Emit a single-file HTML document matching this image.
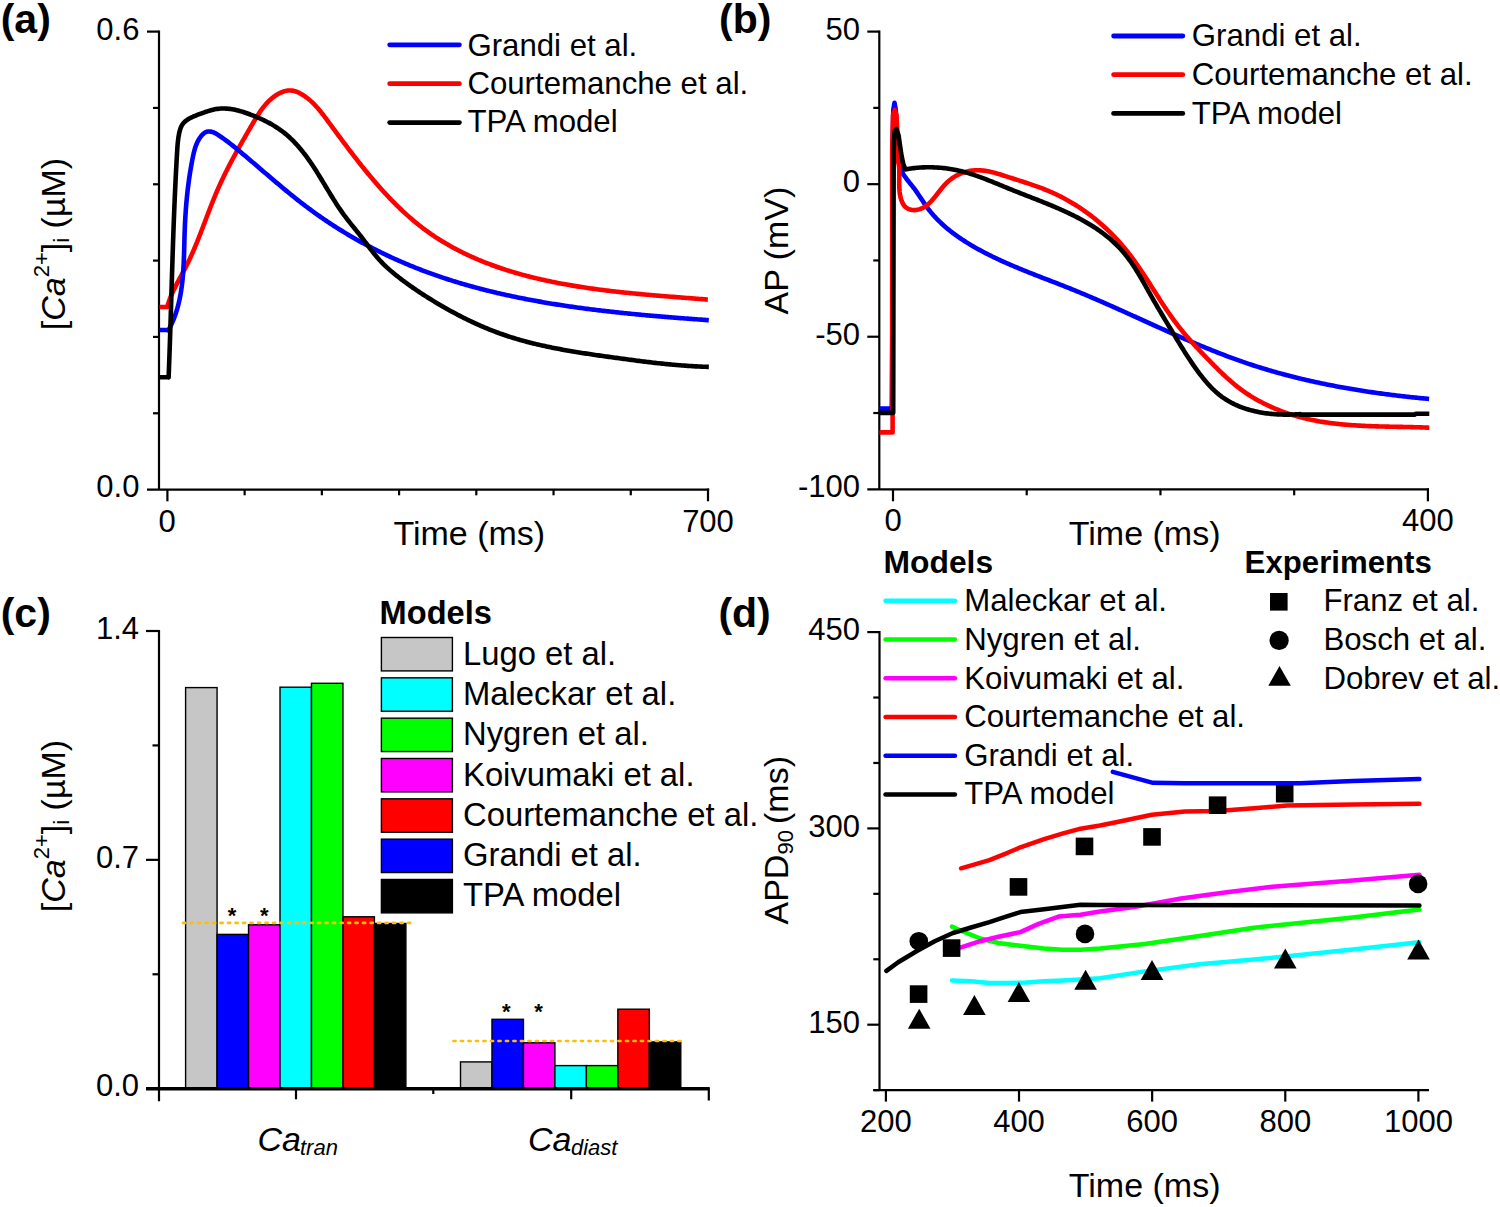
<!DOCTYPE html>
<html><head><meta charset="utf-8"><style>
html,body{margin:0;padding:0;background:#fff;}
svg{display:block;}
text{font-family:"Liberation Sans", sans-serif;fill:#000;}
</style></head><body>
<svg width="1500" height="1207" viewBox="0 0 1500 1207">
<rect width="1500" height="1207" fill="#fff"/>
<text x="0.70" y="32.70" font-size="41" font-weight="bold">(a)</text>
<text x="719.00" y="32.70" font-size="41" font-weight="bold">(b)</text>
<text x="0.70" y="627.30" font-size="41" font-weight="bold">(c)</text>
<text x="718.40" y="627.00" font-size="41" font-weight="bold">(d)</text>
<line x1="159.00" y1="30.60" x2="159.00" y2="489.60" stroke="#000" stroke-width="2.2" stroke-linecap="butt"/>
<line x1="147.00" y1="489.60" x2="709.20" y2="489.60" stroke="#000" stroke-width="2.2" stroke-linecap="butt"/>
<line x1="147.00" y1="31.60" x2="159.00" y2="31.60" stroke="#000" stroke-width="2.2" stroke-linecap="butt"/>
<line x1="153.00" y1="413.27" x2="159.00" y2="413.27" stroke="#000" stroke-width="2.2" stroke-linecap="butt"/>
<line x1="153.00" y1="336.93" x2="159.00" y2="336.93" stroke="#000" stroke-width="2.2" stroke-linecap="butt"/>
<line x1="153.00" y1="260.60" x2="159.00" y2="260.60" stroke="#000" stroke-width="2.2" stroke-linecap="butt"/>
<line x1="153.00" y1="184.27" x2="159.00" y2="184.27" stroke="#000" stroke-width="2.2" stroke-linecap="butt"/>
<line x1="153.00" y1="107.93" x2="159.00" y2="107.93" stroke="#000" stroke-width="2.2" stroke-linecap="butt"/>
<line x1="167.40" y1="489.60" x2="167.40" y2="501.30" stroke="#000" stroke-width="2.2" stroke-linecap="butt"/>
<line x1="708.00" y1="488.60" x2="708.00" y2="501.30" stroke="#000" stroke-width="2.2" stroke-linecap="butt"/>
<line x1="244.63" y1="489.60" x2="244.63" y2="495.30" stroke="#000" stroke-width="2.2" stroke-linecap="butt"/>
<line x1="321.86" y1="489.60" x2="321.86" y2="495.30" stroke="#000" stroke-width="2.2" stroke-linecap="butt"/>
<line x1="399.09" y1="489.60" x2="399.09" y2="495.30" stroke="#000" stroke-width="2.2" stroke-linecap="butt"/>
<line x1="476.31" y1="489.60" x2="476.31" y2="495.30" stroke="#000" stroke-width="2.2" stroke-linecap="butt"/>
<line x1="553.54" y1="489.60" x2="553.54" y2="495.30" stroke="#000" stroke-width="2.2" stroke-linecap="butt"/>
<line x1="630.77" y1="489.60" x2="630.77" y2="495.30" stroke="#000" stroke-width="2.2" stroke-linecap="butt"/>
<text x="139.40" y="39.70" font-size="31.0" text-anchor="end">0.6</text>
<text x="139.40" y="497.30" font-size="31.0" text-anchor="end">0.0</text>
<text x="167.20" y="531.50" font-size="31.0" text-anchor="middle">0</text>
<text x="708.00" y="531.50" font-size="31.0" text-anchor="middle">700</text>
<text x="393.40" y="545.40" font-size="34">Time (ms)</text>
<text transform="translate(65.0,330.2) rotate(-90)" font-size="34">[<tspan font-style="italic">Ca</tspan><tspan font-size="22" dy="-16">2+</tspan><tspan dy="16">]</tspan><tspan font-size="22" dy="4">i</tspan><tspan dy="-4"> (µM)</tspan></text>
<line x1="389.70" y1="44.80" x2="459.40" y2="44.80" stroke="#0000ff" stroke-width="4.8" stroke-linecap="round"/>
<text x="467.40" y="55.60" font-size="31.2">Grandi et al.</text>
<line x1="389.70" y1="83.70" x2="459.40" y2="83.70" stroke="#ff0000" stroke-width="4.8" stroke-linecap="round"/>
<text x="467.40" y="94.00" font-size="31.2">Courtemanche et al.</text>
<line x1="389.70" y1="122.60" x2="459.40" y2="122.60" stroke="#000" stroke-width="4.8" stroke-linecap="round"/>
<text x="467.40" y="132.40" font-size="31.2">TPA model</text>
<path d="M159.50,307.00 L167.40,307.00 L167.25,306.96 L167.66,305.49 L168.09,304.03 L168.56,302.59 L169.04,301.16 L169.55,299.74 L170.09,298.34 L170.64,296.94 L171.21,295.55 L171.80,294.18 L172.41,292.81 L173.04,291.45 L173.68,290.10 L174.33,288.75 L174.99,287.41 L175.67,286.08 L176.35,284.75 L177.04,283.42 L177.74,282.10 L178.44,280.78 L179.15,279.46 L179.86,278.15 L180.58,276.83 L181.29,275.51 L182.01,274.20 L182.72,272.88 L183.42,271.56 L184.13,270.23 L184.82,268.91 L185.51,267.58 L186.20,266.24 L186.87,264.90 L187.54,263.56 L188.19,262.21 L188.84,260.85 L189.48,259.50 L190.12,258.13 L190.74,256.77 L191.37,255.40 L191.98,254.03 L192.59,252.65 L193.19,251.27 L193.79,249.89 L194.38,248.50 L194.96,247.11 L195.54,245.72 L196.12,244.32 L196.69,242.93 L197.26,241.53 L197.82,240.13 L198.38,238.73 L198.94,237.32 L199.49,235.91 L200.04,234.51 L200.59,233.10 L201.13,231.69 L201.67,230.28 L202.22,228.86 L202.76,227.45 L203.29,226.04 L203.83,224.63 L204.37,223.21 L204.90,221.80 L205.44,220.38 L205.98,218.97 L206.51,217.56 L207.05,216.14 L207.59,214.73 L208.12,213.32 L208.66,211.91 L209.20,210.50 L209.75,209.09 L210.29,207.69 L210.84,206.28 L211.39,204.88 L211.94,203.48 L212.50,202.08 L213.06,200.68 L213.62,199.29 L214.19,197.89 L214.76,196.50 L215.33,195.12 L215.91,193.73 L216.50,192.35 L217.09,190.98 L217.68,189.60 L218.28,188.23 L218.89,186.87 L219.50,185.50 L220.12,184.14 L220.74,182.79 L221.37,181.43 L222.01,180.08 L222.64,178.73 L223.29,177.39 L223.94,176.05 L224.59,174.71 L225.25,173.37 L225.91,172.04 L226.58,170.70 L227.25,169.37 L227.93,168.04 L228.61,166.72 L229.30,165.39 L229.99,164.07 L230.68,162.75 L231.38,161.43 L232.08,160.11 L232.78,158.79 L233.49,157.48 L234.21,156.16 L234.92,154.85 L235.64,153.53 L236.36,152.22 L237.09,150.91 L237.82,149.60 L238.55,148.29 L239.28,146.98 L240.02,145.66 L240.76,144.35 L241.50,143.04 L242.25,141.73 L242.99,140.42 L243.74,139.11 L244.49,137.80 L245.25,136.48 L246.00,135.17 L246.76,133.85 L247.52,132.54 L248.28,131.22 L249.05,129.90 L249.81,128.58 L250.58,127.26 L251.34,125.94 L252.11,124.62 L252.88,123.29 L253.66,121.97 L254.44,120.65 L255.22,119.33 L256.02,118.02 L256.82,116.72 L257.63,115.42 L258.45,114.14 L259.29,112.87 L260.14,111.61 L261.01,110.37 L261.89,109.15 L262.79,107.95 L263.71,106.76 L264.66,105.60 L265.62,104.46 L266.61,103.35 L267.62,102.26 L268.66,101.21 L269.73,100.18 L270.83,99.18 L271.96,98.22 L273.12,97.30 L274.31,96.41 L275.53,95.55 L276.80,94.74 L278.09,93.98 L279.42,93.26 L280.77,92.61 L282.15,92.04 L283.55,91.53 L284.97,91.12 L286.40,90.80 L287.84,90.58 L289.28,90.47 L290.73,90.48 L292.18,90.61 L293.63,90.87 L295.07,91.25 L296.50,91.72 L297.92,92.29 L299.32,92.95 L300.70,93.67 L302.05,94.45 L303.38,95.29 L304.67,96.16 L305.93,97.06 L307.16,97.98 L308.35,98.93 L309.52,99.89 L310.65,100.88 L311.76,101.89 L312.84,102.92 L313.89,103.97 L314.92,105.03 L315.93,106.11 L316.92,107.20 L317.89,108.31 L318.85,109.43 L319.79,110.56 L320.72,111.70 L321.63,112.85 L322.54,114.01 L323.44,115.18 L324.33,116.35 L325.21,117.53 L326.10,118.72 L326.98,119.91 L327.86,121.10 L328.74,122.29 L329.62,123.49 L330.50,124.69 L331.39,125.89 L332.28,127.09 L333.16,128.29 L334.05,129.49 L334.94,130.69 L335.83,131.90 L336.73,133.11 L337.62,134.31 L338.52,135.52 L339.41,136.73 L340.31,137.94 L341.21,139.15 L342.12,140.35 L343.02,141.56 L343.93,142.77 L344.83,143.98 L345.74,145.19 L346.66,146.40 L347.57,147.61 L348.49,148.82 L349.40,150.03 L350.32,151.24 L351.25,152.44 L352.17,153.65 L353.10,154.85 L354.03,156.06 L354.96,157.26 L355.89,158.46 L356.83,159.66 L357.77,160.86 L358.71,162.06 L359.65,163.25 L360.60,164.45 L361.55,165.64 L362.50,166.83 L363.45,168.01 L364.41,169.20 L365.37,170.38 L366.33,171.56 L367.30,172.74 L368.27,173.92 L369.24,175.09 L370.21,176.26 L371.19,177.43 L372.17,178.59 L373.16,179.75 L374.14,180.91 L375.13,182.06 L376.13,183.22 L377.12,184.36 L378.13,185.51 L379.13,186.65 L380.14,187.78 L381.15,188.91 L382.16,190.04 L383.18,191.17 L384.20,192.29 L385.23,193.40 L386.26,194.51 L387.29,195.62 L388.33,196.72 L389.37,197.82 L390.41,198.91 L391.46,199.99 L392.52,201.07 L393.57,202.15 L394.63,203.22 L395.70,204.29 L396.77,205.35 L397.84,206.40 L398.92,207.45 L400.00,208.49 L401.09,209.53 L402.18,210.56 L403.28,211.58 L404.38,212.60 L405.48,213.61 L406.59,214.62 L407.70,215.62 L408.82,216.61 L409.95,217.59 L411.07,218.57 L412.21,219.54 L413.34,220.51 L414.49,221.46 L415.63,222.41 L416.79,223.36 L417.94,224.29 L419.11,225.22 L420.27,226.14 L421.45,227.05 L422.62,227.95 L423.81,228.85 L424.99,229.73 L426.19,230.61 L427.39,231.48 L428.59,232.35 L429.80,233.20 L431.02,234.05 L432.24,234.89 L433.46,235.72 L434.69,236.54 L435.93,237.35 L437.17,238.16 L438.41,238.96 L439.66,239.75 L440.92,240.53 L442.17,241.31 L443.44,242.07 L444.71,242.83 L445.98,243.59 L447.26,244.33 L448.54,245.07 L449.83,245.80 L451.12,246.52 L452.42,247.24 L453.72,247.94 L455.02,248.64 L456.33,249.34 L457.64,250.02 L458.96,250.70 L460.28,251.38 L461.61,252.04 L462.94,252.70 L464.27,253.35 L465.61,253.99 L466.95,254.63 L468.30,255.26 L469.65,255.88 L471.00,256.50 L472.36,257.11 L473.72,257.72 L475.08,258.31 L476.45,258.90 L477.82,259.49 L479.20,260.06 L480.58,260.64 L481.96,261.20 L483.35,261.76 L484.74,262.31 L486.13,262.86 L487.52,263.40 L488.92,263.93 L490.33,264.46 L491.73,264.98 L493.14,265.49 L494.55,266.00 L495.97,266.51 L497.38,267.00 L498.81,267.50 L500.23,267.98 L501.66,268.46 L503.09,268.94 L504.52,269.41 L505.95,269.87 L507.39,270.33 L508.83,270.78 L510.27,271.22 L511.72,271.67 L513.17,272.10 L514.62,272.53 L516.07,272.96 L517.52,273.38 L518.98,273.79 L520.44,274.20 L521.90,274.61 L523.37,275.00 L524.83,275.40 L526.30,275.79 L527.77,276.17 L529.25,276.55 L530.72,276.93 L532.20,277.30 L533.67,277.66 L535.16,278.02 L536.64,278.38 L538.12,278.73 L539.61,279.07 L541.09,279.42 L542.58,279.75 L544.07,280.09 L545.57,280.41 L547.06,280.74 L548.55,281.06 L550.05,281.37 L551.55,281.68 L553.05,281.99 L554.55,282.29 L556.05,282.59 L557.55,282.89 L559.06,283.18 L560.56,283.46 L562.07,283.75 L563.58,284.03 L565.08,284.30 L566.59,284.57 L568.10,284.84 L569.62,285.10 L571.13,285.36 L572.64,285.62 L574.15,285.87 L575.67,286.12 L577.18,286.37 L578.70,286.61 L580.21,286.85 L581.73,287.09 L583.25,287.32 L584.76,287.55 L586.28,287.77 L587.80,288.00 L589.32,288.22 L590.84,288.43 L592.35,288.65 L593.87,288.86 L595.39,289.06 L596.91,289.27 L598.43,289.47 L599.95,289.67 L601.47,289.87 L602.99,290.06 L604.51,290.25 L606.02,290.44 L607.54,290.63 L609.06,290.81 L610.58,290.99 L612.10,291.17 L613.61,291.34 L615.13,291.52 L616.65,291.69 L618.16,291.86 L619.68,292.02 L621.19,292.19 L622.70,292.35 L624.22,292.51 L625.73,292.67 L627.24,292.82 L628.75,292.98 L630.26,293.13 L631.77,293.28 L633.28,293.43 L634.78,293.58 L636.29,293.72 L637.79,293.86 L639.30,294.01 L640.80,294.15 L642.30,294.28 L643.80,294.42 L645.30,294.56 L646.80,294.69 L648.29,294.82 L649.78,294.95 L651.28,295.08 L652.77,295.21 L654.26,295.34 L655.75,295.47 L657.23,295.59 L658.72,295.72 L660.20,295.84 L661.68,295.96 L663.16,296.08 L664.64,296.20 L666.11,296.32 L667.59,296.44 L669.06,296.56 L670.53,296.67 L671.99,296.79 L673.46,296.91 L674.92,297.02 L676.38,297.14 L677.84,297.25 L679.29,297.36 L680.75,297.48 L682.20,297.59 L683.65,297.70 L685.09,297.82 L686.54,297.93 L687.98,298.04 L689.42,298.15 L690.85,298.26 L692.29,298.38 L693.72,298.49 L695.14,298.60 L696.57,298.71 L697.99,298.82 L699.41,298.93 L700.83,299.05 L702.24,299.16 L703.65,299.27 L705.05,299.39 L706.46,299.50 L707.86,299.61" fill="none" stroke="#ff0000" stroke-width="4.6" stroke-linecap="butt" stroke-linejoin="round"/>
<path d="M159.50,330.00 L167.40,330.00 L168.29,330.55 L169.01,329.22 L169.71,327.89 L170.38,326.55 L171.03,325.20 L171.66,323.85 L172.27,322.49 L172.86,321.12 L173.43,319.75 L173.97,318.37 L174.50,316.98 L175.01,315.59 L175.50,314.19 L175.97,312.78 L176.42,311.38 L176.86,309.96 L177.27,308.54 L177.67,307.11 L178.06,305.68 L178.42,304.25 L178.78,302.81 L179.11,301.36 L179.43,299.91 L179.74,298.46 L180.03,297.00 L180.31,295.54 L180.57,294.07 L180.83,292.60 L181.07,291.13 L181.29,289.65 L181.51,288.17 L181.71,286.68 L181.90,285.20 L182.08,283.71 L182.25,282.21 L182.42,280.72 L182.57,279.22 L182.71,277.72 L182.84,276.21 L182.97,274.70 L183.09,273.20 L183.19,271.69 L183.30,270.17 L183.39,268.66 L183.48,267.14 L183.56,265.63 L183.64,264.11 L183.71,262.59 L183.78,261.07 L183.84,259.55 L183.90,258.02 L183.96,256.50 L184.01,254.98 L184.06,253.45 L184.11,251.93 L184.15,250.40 L184.19,248.88 L184.23,247.35 L184.27,245.83 L184.31,244.31 L184.35,242.78 L184.39,241.26 L184.43,239.74 L184.47,238.22 L184.52,236.70 L184.56,235.18 L184.61,233.66 L184.66,232.15 L184.71,230.63 L184.77,229.12 L184.83,227.61 L184.89,226.10 L184.96,224.59 L185.03,223.09 L185.10,221.58 L185.18,220.08 L185.26,218.58 L185.35,217.08 L185.44,215.58 L185.53,214.09 L185.63,212.59 L185.73,211.10 L185.84,209.60 L185.95,208.11 L186.07,206.62 L186.19,205.13 L186.32,203.64 L186.44,202.15 L186.58,200.66 L186.72,199.18 L186.86,197.69 L187.01,196.20 L187.16,194.72 L187.32,193.23 L187.49,191.75 L187.65,190.27 L187.83,188.78 L188.01,187.30 L188.19,185.82 L188.38,184.34 L188.57,182.85 L188.77,181.37 L188.98,179.89 L189.19,178.41 L189.40,176.93 L189.63,175.44 L189.85,173.96 L190.09,172.48 L190.33,171.00 L190.57,169.51 L190.82,168.03 L191.08,166.55 L191.34,165.06 L191.61,163.58 L191.88,162.09 L192.17,160.61 L192.45,159.12 L192.75,157.63 L193.05,156.14 L193.37,154.66 L193.70,153.18 L194.06,151.71 L194.44,150.24 L194.86,148.79 L195.31,147.34 L195.81,145.92 L196.35,144.51 L196.94,143.11 L197.59,141.74 L198.29,140.39 L199.07,139.07 L199.91,137.77 L200.82,136.51 L201.82,135.28 L202.89,134.15 L204.04,133.17 L205.27,132.40 L206.58,131.86 L207.94,131.56 L209.34,131.48 L210.75,131.60 L212.16,131.91 L213.55,132.41 L214.93,133.05 L216.28,133.80 L217.61,134.63 L218.92,135.49 L220.22,136.36 L221.50,137.23 L222.76,138.11 L224.01,139.00 L225.24,139.90 L226.47,140.80 L227.68,141.71 L228.88,142.63 L230.07,143.55 L231.25,144.47 L232.42,145.40 L233.59,146.33 L234.75,147.27 L235.91,148.21 L237.06,149.16 L238.21,150.11 L239.35,151.06 L240.50,152.01 L241.64,152.97 L242.79,153.93 L243.93,154.89 L245.08,155.85 L246.22,156.81 L247.36,157.78 L248.50,158.74 L249.64,159.71 L250.79,160.68 L251.93,161.65 L253.07,162.63 L254.21,163.60 L255.35,164.58 L256.49,165.55 L257.63,166.53 L258.77,167.50 L259.92,168.48 L261.06,169.46 L262.20,170.44 L263.34,171.42 L264.49,172.39 L265.63,173.37 L266.78,174.35 L267.92,175.33 L269.07,176.31 L270.21,177.29 L271.36,178.26 L272.51,179.24 L273.66,180.21 L274.81,181.19 L275.96,182.16 L277.12,183.13 L278.27,184.11 L279.43,185.08 L280.58,186.04 L281.74,187.01 L282.90,187.98 L284.06,188.94 L285.23,189.90 L286.39,190.86 L287.56,191.82 L288.73,192.78 L289.90,193.73 L291.07,194.68 L292.24,195.63 L293.42,196.57 L294.59,197.52 L295.77,198.46 L296.96,199.39 L298.14,200.33 L299.33,201.26 L300.52,202.19 L301.71,203.11 L302.90,204.03 L304.10,204.95 L305.30,205.86 L306.50,206.77 L307.71,207.68 L308.91,208.58 L310.12,209.47 L311.34,210.37 L312.55,211.26 L313.77,212.14 L314.99,213.02 L316.22,213.90 L317.45,214.77 L318.68,215.64 L319.91,216.50 L321.15,217.36 L322.38,218.21 L323.63,219.07 L324.87,219.91 L326.12,220.75 L327.37,221.59 L328.62,222.43 L329.88,223.25 L331.13,224.08 L332.39,224.90 L333.66,225.72 L334.92,226.53 L336.19,227.34 L337.46,228.14 L338.74,228.94 L340.01,229.74 L341.29,230.53 L342.57,231.32 L343.86,232.10 L345.14,232.88 L346.43,233.65 L347.72,234.42 L349.01,235.19 L350.31,235.95 L351.61,236.71 L352.91,237.46 L354.21,238.21 L355.52,238.95 L356.83,239.69 L358.14,240.43 L359.45,241.16 L360.77,241.89 L362.08,242.61 L363.40,243.33 L364.73,244.05 L366.05,244.76 L367.38,245.47 L368.71,246.17 L370.04,246.87 L371.37,247.56 L372.71,248.25 L374.04,248.94 L375.38,249.62 L376.73,250.30 L378.07,250.97 L379.42,251.64 L380.76,252.30 L382.12,252.96 L383.47,253.62 L384.82,254.27 L386.18,254.92 L387.54,255.56 L388.90,256.20 L390.26,256.84 L391.63,257.47 L392.99,258.09 L394.36,258.72 L395.73,259.33 L397.10,259.95 L398.48,260.56 L399.86,261.16 L401.23,261.76 L402.61,262.36 L404.00,262.95 L405.38,263.54 L406.77,264.13 L408.15,264.71 L409.54,265.28 L410.93,265.86 L412.33,266.42 L413.72,266.99 L415.12,267.55 L416.52,268.10 L417.92,268.65 L419.32,269.20 L420.72,269.74 L422.12,270.28 L423.53,270.82 L424.94,271.35 L426.35,271.87 L427.76,272.39 L429.17,272.91 L430.59,273.42 L432.00,273.93 L433.42,274.44 L434.84,274.94 L436.26,275.43 L437.68,275.93 L439.11,276.42 L440.53,276.90 L441.96,277.38 L443.39,277.86 L444.82,278.33 L446.25,278.80 L447.68,279.26 L449.11,279.72 L450.55,280.18 L451.98,280.63 L453.42,281.08 L454.86,281.53 L456.30,281.97 L457.74,282.41 L459.18,282.84 L460.62,283.27 L462.07,283.70 L463.51,284.12 L464.96,284.54 L466.41,284.96 L467.86,285.37 L469.31,285.78 L470.76,286.18 L472.21,286.58 L473.67,286.98 L475.12,287.38 L476.58,287.77 L478.03,288.15 L479.49,288.54 L480.95,288.92 L482.41,289.30 L483.87,289.67 L485.33,290.04 L486.79,290.41 L488.25,290.77 L489.71,291.13 L491.18,291.49 L492.64,291.85 L494.11,292.20 L495.58,292.55 L497.04,292.89 L498.51,293.23 L499.98,293.57 L501.45,293.91 L502.92,294.24 L504.39,294.57 L505.86,294.90 L507.33,295.22 L508.80,295.54 L510.28,295.86 L511.75,296.17 L513.22,296.48 L514.70,296.79 L516.17,297.10 L517.65,297.40 L519.13,297.70 L520.60,298.00 L522.08,298.30 L523.56,298.59 L525.03,298.88 L526.51,299.17 L527.99,299.45 L529.47,299.73 L530.95,300.01 L532.43,300.29 L533.91,300.56 L535.39,300.83 L536.87,301.10 L538.35,301.37 L539.83,301.63 L541.31,301.89 L542.79,302.15 L544.27,302.41 L545.76,302.66 L547.24,302.92 L548.72,303.16 L550.21,303.41 L551.69,303.66 L553.17,303.90 L554.66,304.14 L556.14,304.38 L557.63,304.61 L559.11,304.84 L560.60,305.07 L562.08,305.30 L563.57,305.53 L565.06,305.75 L566.54,305.98 L568.03,306.20 L569.52,306.41 L571.01,306.63 L572.49,306.84 L573.98,307.06 L575.47,307.27 L576.96,307.47 L578.45,307.68 L579.94,307.88 L581.43,308.08 L582.92,308.28 L584.41,308.48 L585.90,308.68 L587.39,308.87 L588.88,309.07 L590.37,309.26 L591.86,309.44 L593.36,309.63 L594.85,309.82 L596.34,310.00 L597.83,310.18 L599.33,310.36 L600.82,310.54 L602.31,310.72 L603.81,310.89 L605.30,311.07 L606.79,311.24 L608.29,311.41 L609.78,311.58 L611.28,311.74 L612.77,311.91 L614.27,312.07 L615.76,312.23 L617.26,312.40 L618.75,312.56 L620.25,312.71 L621.75,312.87 L623.24,313.03 L624.74,313.18 L626.24,313.33 L627.73,313.48 L629.23,313.63 L630.73,313.78 L632.23,313.93 L633.73,314.07 L635.22,314.22 L636.72,314.36 L638.22,314.51 L639.72,314.65 L641.22,314.79 L642.72,314.93 L644.22,315.06 L645.72,315.20 L647.21,315.34 L648.71,315.47 L650.21,315.60 L651.71,315.74 L653.22,315.87 L654.72,316.00 L656.22,316.13 L657.72,316.26 L659.22,316.38 L660.72,316.51 L662.22,316.64 L663.72,316.76 L665.22,316.89 L666.72,317.01 L668.23,317.13 L669.73,317.25 L671.23,317.37 L672.73,317.50 L674.23,317.61 L675.74,317.73 L677.24,317.85 L678.74,317.97 L680.25,318.09 L681.75,318.20 L683.25,318.32 L684.75,318.43 L686.26,318.55 L687.76,318.66 L689.26,318.77 L690.77,318.89 L692.27,319.00 L693.78,319.11 L695.28,319.22 L696.78,319.33 L698.29,319.44 L699.79,319.55 L701.30,319.66 L702.80,319.77 L704.31,319.88 L705.81,319.99 L707.31,320.10 L708.82,320.21" fill="none" stroke="#0000ff" stroke-width="4.6" stroke-linecap="butt" stroke-linejoin="round"/>
<path d="M159.50,377.30 L168.70,377.30 L168.61,377.33 L168.67,375.82 L168.73,374.32 L168.79,372.81 L168.85,371.30 L168.91,369.80 L168.97,368.29 L169.02,366.78 L169.08,365.28 L169.14,363.77 L169.19,362.27 L169.25,360.76 L169.31,359.26 L169.36,357.75 L169.42,356.25 L169.47,354.75 L169.52,353.24 L169.58,351.74 L169.63,350.23 L169.68,348.73 L169.73,347.23 L169.79,345.72 L169.84,344.22 L169.89,342.72 L169.94,341.21 L169.99,339.71 L170.04,338.21 L170.09,336.70 L170.14,335.20 L170.19,333.70 L170.24,332.20 L170.29,330.70 L170.34,329.19 L170.38,327.69 L170.43,326.19 L170.48,324.69 L170.53,323.19 L170.57,321.68 L170.62,320.18 L170.67,318.68 L170.72,317.18 L170.76,315.68 L170.81,314.18 L170.86,312.68 L170.90,311.18 L170.95,309.68 L170.99,308.17 L171.04,306.67 L171.09,305.17 L171.13,303.67 L171.18,302.17 L171.22,300.67 L171.27,299.17 L171.31,297.67 L171.36,296.17 L171.40,294.67 L171.45,293.17 L171.50,291.67 L171.54,290.17 L171.59,288.67 L171.63,287.17 L171.68,285.67 L171.72,284.17 L171.77,282.67 L171.81,281.17 L171.86,279.67 L171.91,278.17 L171.95,276.67 L172.00,275.17 L172.04,273.67 L172.09,272.17 L172.14,270.67 L172.18,269.17 L172.23,267.67 L172.28,266.17 L172.32,264.67 L172.37,263.17 L172.42,261.67 L172.47,260.17 L172.51,258.67 L172.56,257.17 L172.61,255.67 L172.66,254.17 L172.71,252.67 L172.76,251.17 L172.81,249.67 L172.86,248.17 L172.91,246.67 L172.96,245.17 L173.01,243.67 L173.06,242.17 L173.11,240.67 L173.16,239.17 L173.21,237.67 L173.27,236.17 L173.32,234.66 L173.37,233.16 L173.43,231.66 L173.48,230.16 L173.54,228.66 L173.59,227.16 L173.65,225.66 L173.70,224.16 L173.76,222.66 L173.82,221.15 L173.87,219.65 L173.93,218.15 L173.99,216.65 L174.05,215.15 L174.11,213.65 L174.17,212.14 L174.23,210.64 L174.29,209.14 L174.35,207.64 L174.41,206.13 L174.47,204.63 L174.54,203.13 L174.60,201.63 L174.67,200.12 L174.73,198.62 L174.80,197.12 L174.86,195.61 L174.93,194.11 L175.00,192.60 L175.07,191.10 L175.14,189.60 L175.21,188.09 L175.28,186.59 L175.35,185.08 L175.42,183.58 L175.49,182.07 L175.57,180.57 L175.64,179.06 L175.71,177.56 L175.79,176.05 L175.87,174.55 L175.94,173.04 L176.02,171.53 L176.10,170.03 L176.18,168.52 L176.26,167.02 L176.34,165.51 L176.43,164.00 L176.51,162.49 L176.59,160.99 L176.68,159.48 L176.76,157.97 L176.85,156.46 L176.94,154.95 L177.03,153.45 L177.12,151.94 L177.21,150.43 L177.30,148.92 L177.40,147.41 L177.51,145.91 L177.63,144.40 L177.77,142.90 L177.92,141.41 L178.10,139.92 L178.29,138.43 L178.51,136.95 L178.76,135.47 L179.04,134.01 L179.35,132.55 L179.70,131.10 L180.10,129.67 L180.55,128.27 L181.09,126.91 L181.71,125.62 L182.45,124.40 L183.30,123.27 L184.27,122.22 L185.33,121.25 L186.48,120.36 L187.69,119.52 L188.96,118.75 L190.27,118.03 L191.61,117.35 L192.98,116.71 L194.38,116.11 L195.80,115.53 L197.23,114.97 L198.68,114.43 L200.13,113.89 L201.58,113.35 L203.03,112.82 L204.49,112.30 L205.95,111.80 L207.41,111.31 L208.86,110.85 L210.33,110.42 L211.79,110.02 L213.25,109.66 L214.71,109.34 L216.18,109.07 L217.64,108.85 L219.11,108.68 L220.58,108.56 L222.05,108.50 L223.51,108.48 L224.98,108.51 L226.45,108.59 L227.91,108.71 L229.38,108.87 L230.84,109.06 L232.30,109.30 L233.77,109.56 L235.22,109.87 L236.68,110.20 L238.14,110.56 L239.59,110.95 L241.04,111.36 L242.48,111.80 L243.93,112.25 L245.37,112.73 L246.80,113.22 L248.23,113.73 L249.66,114.26 L251.08,114.79 L252.50,115.34 L253.91,115.90 L255.32,116.47 L256.72,117.05 L258.12,117.64 L259.50,118.25 L260.88,118.88 L262.26,119.51 L263.62,120.16 L264.98,120.82 L266.32,121.50 L267.66,122.19 L268.99,122.90 L270.31,123.63 L271.62,124.37 L272.91,125.12 L274.20,125.89 L275.47,126.68 L276.73,127.49 L277.98,128.31 L279.21,129.15 L280.44,130.01 L281.64,130.88 L282.84,131.78 L284.02,132.69 L285.18,133.62 L286.33,134.57 L287.47,135.54 L288.59,136.53 L289.69,137.54 L290.78,138.56 L291.86,139.59 L292.92,140.65 L293.98,141.71 L295.01,142.80 L296.04,143.89 L297.05,145.00 L298.05,146.12 L299.03,147.25 L300.01,148.40 L300.97,149.55 L301.92,150.71 L302.86,151.89 L303.79,153.07 L304.70,154.26 L305.61,155.46 L306.51,156.67 L307.39,157.88 L308.27,159.10 L309.14,160.33 L309.99,161.56 L310.84,162.79 L311.69,164.04 L312.52,165.29 L313.35,166.54 L314.17,167.80 L314.99,169.06 L315.80,170.33 L316.60,171.59 L317.40,172.87 L318.20,174.14 L318.99,175.42 L319.77,176.70 L320.56,177.99 L321.34,179.27 L322.12,180.56 L322.90,181.85 L323.67,183.13 L324.45,184.42 L325.22,185.71 L326.00,187.00 L326.77,188.29 L327.55,189.58 L328.33,190.87 L329.11,192.16 L329.89,193.44 L330.67,194.73 L331.46,196.01 L332.24,197.29 L333.04,198.56 L333.83,199.84 L334.64,201.11 L335.44,202.37 L336.26,203.64 L337.07,204.90 L337.90,206.15 L338.73,207.40 L339.57,208.65 L340.42,209.88 L341.27,211.12 L342.13,212.35 L343.01,213.57 L343.89,214.78 L344.78,215.99 L345.68,217.19 L346.59,218.39 L347.50,219.58 L348.42,220.76 L349.35,221.94 L350.29,223.12 L351.22,224.30 L352.17,225.47 L353.11,226.65 L354.06,227.82 L355.00,228.99 L355.95,230.16 L356.89,231.33 L357.84,232.51 L358.78,233.68 L359.72,234.86 L360.65,236.04 L361.58,237.23 L362.51,238.42 L363.42,239.62 L364.34,240.82 L365.25,242.02 L366.15,243.23 L367.06,244.43 L367.97,245.63 L368.87,246.84 L369.78,248.04 L370.69,249.24 L371.61,250.43 L372.53,251.62 L373.46,252.80 L374.39,253.97 L375.34,255.14 L376.29,256.29 L377.26,257.44 L378.24,258.57 L379.23,259.69 L380.24,260.80 L381.26,261.89 L382.30,262.97 L383.35,264.03 L384.42,265.08 L385.50,266.12 L386.59,267.14 L387.70,268.15 L388.81,269.15 L389.94,270.14 L391.08,271.12 L392.23,272.09 L393.39,273.05 L394.55,274.00 L395.72,274.94 L396.90,275.88 L398.09,276.81 L399.28,277.73 L400.47,278.64 L401.67,279.55 L402.87,280.46 L404.08,281.36 L405.29,282.25 L406.50,283.14 L407.72,284.02 L408.94,284.90 L410.16,285.77 L411.39,286.64 L412.62,287.50 L413.86,288.35 L415.09,289.21 L416.34,290.05 L417.58,290.89 L418.83,291.73 L420.08,292.56 L421.34,293.39 L422.59,294.21 L423.86,295.03 L425.12,295.84 L426.39,296.65 L427.66,297.45 L428.93,298.25 L430.21,299.04 L431.49,299.83 L432.77,300.62 L434.05,301.40 L435.34,302.17 L436.63,302.94 L437.92,303.71 L439.22,304.48 L440.52,305.23 L441.82,305.99 L443.12,306.74 L444.42,307.49 L445.73,308.23 L447.04,308.97 L448.36,309.70 L449.67,310.43 L450.99,311.15 L452.31,311.87 L453.63,312.59 L454.96,313.30 L456.29,314.01 L457.62,314.71 L458.95,315.40 L460.29,316.09 L461.63,316.78 L462.97,317.46 L464.31,318.13 L465.66,318.80 L467.00,319.46 L468.36,320.12 L469.71,320.77 L471.07,321.42 L472.42,322.06 L473.78,322.70 L475.15,323.32 L476.51,323.95 L477.88,324.56 L479.25,325.17 L480.63,325.78 L482.00,326.38 L483.38,326.97 L484.76,327.55 L486.15,328.13 L487.53,328.70 L488.92,329.27 L490.31,329.83 L491.71,330.38 L493.10,330.92 L494.50,331.46 L495.90,331.99 L497.31,332.52 L498.71,333.03 L500.12,333.54 L501.54,334.04 L502.95,334.54 L504.37,335.02 L505.78,335.50 L507.21,335.98 L508.63,336.44 L510.06,336.90 L511.48,337.35 L512.91,337.80 L514.35,338.24 L515.78,338.67 L517.22,339.10 L518.66,339.52 L520.10,339.93 L521.54,340.34 L522.98,340.74 L524.43,341.14 L525.88,341.53 L527.33,341.91 L528.78,342.29 L530.24,342.67 L531.69,343.03 L533.15,343.40 L534.61,343.75 L536.07,344.11 L537.53,344.45 L538.99,344.80 L540.46,345.13 L541.93,345.46 L543.39,345.79 L544.86,346.11 L546.33,346.43 L547.80,346.75 L549.28,347.06 L550.75,347.36 L552.23,347.66 L553.70,347.96 L555.18,348.25 L556.66,348.54 L558.14,348.82 L559.62,349.10 L561.10,349.38 L562.58,349.66 L564.07,349.93 L565.55,350.19 L567.04,350.46 L568.52,350.72 L570.01,350.97 L571.50,351.23 L572.98,351.48 L574.47,351.73 L575.96,351.97 L577.45,352.22 L578.94,352.46 L580.43,352.69 L581.92,352.93 L583.41,353.16 L584.90,353.39 L586.39,353.62 L587.89,353.85 L589.38,354.07 L590.87,354.29 L592.36,354.51 L593.85,354.73 L595.35,354.95 L596.84,355.17 L598.33,355.38 L599.82,355.60 L601.32,355.81 L602.81,356.02 L604.30,356.23 L605.79,356.44 L607.28,356.64 L608.77,356.85 L610.26,357.06 L611.75,357.26 L613.24,357.47 L614.73,357.67 L616.22,357.88 L617.71,358.08 L619.20,358.29 L620.69,358.49 L622.17,358.69 L623.66,358.89 L625.15,359.09 L626.63,359.29 L628.12,359.49 L629.60,359.69 L631.09,359.89 L632.58,360.08 L634.06,360.28 L635.55,360.47 L637.03,360.66 L638.52,360.85 L640.00,361.04 L641.49,361.23 L642.97,361.42 L644.46,361.60 L645.94,361.78 L647.43,361.96 L648.91,362.14 L650.40,362.32 L651.88,362.49 L653.37,362.67 L654.86,362.84 L656.34,363.00 L657.83,363.17 L659.32,363.33 L660.81,363.49 L662.29,363.65 L663.78,363.81 L665.27,363.96 L666.76,364.11 L668.25,364.26 L669.74,364.40 L671.24,364.54 L672.73,364.68 L674.22,364.82 L675.72,364.95 L677.21,365.08 L678.71,365.20 L680.20,365.32 L681.70,365.44 L683.20,365.55 L684.70,365.66 L686.20,365.77 L687.70,365.88 L689.20,365.97 L690.71,366.07 L692.21,366.16 L693.71,366.25 L695.22,366.33 L696.73,366.41 L698.24,366.48 L699.75,366.55 L701.26,366.62 L702.77,366.68 L704.29,366.74 L705.80,366.79 L707.32,366.84 L708.84,366.88" fill="none" stroke="#000" stroke-width="4.6" stroke-linecap="butt" stroke-linejoin="round"/>
<line x1="879.30" y1="30.60" x2="879.30" y2="489.30" stroke="#000" stroke-width="2.2" stroke-linecap="butt"/>
<line x1="867.30" y1="489.30" x2="1429.00" y2="489.30" stroke="#000" stroke-width="2.2" stroke-linecap="butt"/>
<line x1="867.30" y1="31.60" x2="879.30" y2="31.60" stroke="#000" stroke-width="2.2" stroke-linecap="butt"/>
<line x1="867.30" y1="184.17" x2="879.30" y2="184.17" stroke="#000" stroke-width="2.2" stroke-linecap="butt"/>
<line x1="867.30" y1="336.73" x2="879.30" y2="336.73" stroke="#000" stroke-width="2.2" stroke-linecap="butt"/>
<line x1="873.30" y1="107.88" x2="879.30" y2="107.88" stroke="#000" stroke-width="2.2" stroke-linecap="butt"/>
<line x1="873.30" y1="260.45" x2="879.30" y2="260.45" stroke="#000" stroke-width="2.2" stroke-linecap="butt"/>
<line x1="873.30" y1="413.02" x2="879.30" y2="413.02" stroke="#000" stroke-width="2.2" stroke-linecap="butt"/>
<line x1="893.00" y1="489.30" x2="893.00" y2="501.30" stroke="#000" stroke-width="2.2" stroke-linecap="butt"/>
<line x1="1427.90" y1="488.30" x2="1427.90" y2="501.30" stroke="#000" stroke-width="2.2" stroke-linecap="butt"/>
<line x1="1026.72" y1="489.30" x2="1026.72" y2="495.30" stroke="#000" stroke-width="2.2" stroke-linecap="butt"/>
<line x1="1160.45" y1="489.30" x2="1160.45" y2="495.30" stroke="#000" stroke-width="2.2" stroke-linecap="butt"/>
<line x1="1294.18" y1="489.30" x2="1294.18" y2="495.30" stroke="#000" stroke-width="2.2" stroke-linecap="butt"/>
<text x="860.10" y="39.70" font-size="31.0" text-anchor="end">50</text>
<text x="860.10" y="192.27" font-size="31.0" text-anchor="end">0</text>
<text x="860.10" y="344.83" font-size="31.0" text-anchor="end">-50</text>
<text x="860.10" y="497.20" font-size="31.0" text-anchor="end">-100</text>
<text x="893.00" y="531.30" font-size="31.0" text-anchor="middle">0</text>
<text x="1427.90" y="531.30" font-size="31.0" text-anchor="middle">400</text>
<text x="1068.80" y="545.40" font-size="34">Time (ms)</text>
<text transform="translate(788.2,314.5) rotate(-90)" font-size="34">AP (mV)</text>
<line x1="1113.60" y1="36.00" x2="1182.80" y2="36.00" stroke="#0000ff" stroke-width="4.8" stroke-linecap="round"/>
<text x="1191.80" y="46.40" font-size="31.2">Grandi et al.</text>
<line x1="1113.60" y1="74.70" x2="1182.80" y2="74.70" stroke="#ff0000" stroke-width="4.8" stroke-linecap="round"/>
<text x="1191.80" y="85.00" font-size="31.2">Courtemanche et al.</text>
<line x1="1113.60" y1="113.40" x2="1182.80" y2="113.40" stroke="#000" stroke-width="4.8" stroke-linecap="round"/>
<text x="1191.80" y="123.60" font-size="31.2">TPA model</text>
<path d="M879.50,408.60 L891.80,408.60 L892.20,330.00 L892.60,150.00 L893.30,110.00 L894.50,102.80 L895.80,110.00 L896.60,140.00 L897.80,158.00 L899.90,166.60 L899.68,166.79 L900.21,168.22 L900.80,169.60 L901.44,170.95 L902.13,172.26 L902.87,173.54 L903.65,174.80 L904.46,176.02 L905.30,177.23 L906.18,178.42 L907.07,179.60 L907.98,180.77 L908.91,181.93 L909.84,183.09 L910.78,184.25 L911.72,185.41 L912.66,186.59 L913.58,187.78 L914.49,188.98 L915.39,190.20 L916.27,191.43 L917.14,192.68 L918.00,193.94 L918.86,195.21 L919.70,196.48 L920.55,197.76 L921.39,199.04 L922.24,200.32 L923.09,201.60 L923.94,202.87 L924.81,204.13 L925.68,205.38 L926.56,206.63 L927.46,207.85 L928.37,209.06 L929.30,210.26 L930.24,211.44 L931.20,212.60 L932.17,213.75 L933.16,214.89 L934.16,216.01 L935.17,217.12 L936.20,218.21 L937.24,219.29 L938.29,220.35 L939.35,221.41 L940.42,222.44 L941.51,223.47 L942.61,224.48 L943.72,225.48 L944.84,226.47 L945.97,227.44 L947.11,228.41 L948.26,229.36 L949.42,230.30 L950.59,231.23 L951.77,232.14 L952.96,233.05 L954.15,233.94 L955.36,234.83 L956.57,235.70 L957.79,236.56 L959.02,237.42 L960.25,238.26 L961.49,239.10 L962.74,239.92 L964.00,240.74 L965.26,241.54 L966.52,242.34 L967.79,243.13 L969.07,243.91 L970.35,244.68 L971.64,245.45 L972.93,246.20 L974.22,246.95 L975.52,247.69 L976.83,248.43 L978.13,249.15 L979.44,249.87 L980.76,250.59 L982.07,251.29 L983.40,251.99 L984.72,252.69 L986.05,253.37 L987.38,254.05 L988.71,254.73 L990.05,255.40 L991.39,256.06 L992.74,256.72 L994.09,257.37 L995.44,258.02 L996.79,258.66 L998.14,259.29 L999.50,259.92 L1000.86,260.55 L1002.23,261.17 L1003.59,261.79 L1004.96,262.40 L1006.33,263.01 L1007.71,263.61 L1009.08,264.21 L1010.46,264.81 L1011.84,265.40 L1013.22,265.99 L1014.60,266.58 L1015.99,267.16 L1017.37,267.74 L1018.76,268.32 L1020.15,268.89 L1021.55,269.46 L1022.94,270.03 L1024.33,270.59 L1025.73,271.15 L1027.13,271.72 L1028.53,272.27 L1029.92,272.83 L1031.33,273.39 L1032.73,273.94 L1034.13,274.49 L1035.53,275.04 L1036.94,275.59 L1038.34,276.14 L1039.75,276.69 L1041.15,277.23 L1042.56,277.78 L1043.97,278.32 L1045.37,278.87 L1046.78,279.41 L1048.19,279.96 L1049.60,280.50 L1051.01,281.05 L1052.41,281.59 L1053.82,282.14 L1055.23,282.68 L1056.64,283.23 L1058.04,283.77 L1059.45,284.32 L1060.86,284.87 L1062.26,285.42 L1063.67,285.97 L1065.07,286.53 L1066.47,287.08 L1067.88,287.64 L1069.28,288.20 L1070.68,288.76 L1072.08,289.32 L1073.48,289.89 L1074.88,290.46 L1076.27,291.03 L1077.67,291.60 L1079.06,292.17 L1080.46,292.75 L1081.85,293.33 L1083.24,293.91 L1084.63,294.49 L1086.02,295.07 L1087.41,295.66 L1088.80,296.25 L1090.19,296.84 L1091.57,297.43 L1092.96,298.02 L1094.34,298.62 L1095.73,299.21 L1097.11,299.81 L1098.50,300.41 L1099.88,301.01 L1101.26,301.61 L1102.64,302.22 L1104.02,302.82 L1105.40,303.43 L1106.78,304.03 L1108.16,304.64 L1109.53,305.25 L1110.91,305.86 L1112.29,306.47 L1113.66,307.08 L1115.04,307.70 L1116.41,308.31 L1117.79,308.93 L1119.16,309.54 L1120.54,310.16 L1121.91,310.77 L1123.28,311.39 L1124.66,312.01 L1126.03,312.63 L1127.40,313.25 L1128.77,313.87 L1130.15,314.49 L1131.52,315.11 L1132.89,315.73 L1134.26,316.35 L1135.63,316.97 L1137.00,317.59 L1138.37,318.21 L1139.74,318.83 L1141.11,319.45 L1142.48,320.08 L1143.85,320.70 L1145.22,321.32 L1146.59,321.94 L1147.96,322.56 L1149.33,323.18 L1150.70,323.80 L1152.07,324.42 L1153.44,325.04 L1154.82,325.66 L1156.19,326.28 L1157.56,326.89 L1158.93,327.51 L1160.30,328.13 L1161.67,328.74 L1163.04,329.36 L1164.41,329.97 L1165.79,330.58 L1167.16,331.20 L1168.53,331.81 L1169.90,332.42 L1171.28,333.03 L1172.65,333.64 L1174.03,334.24 L1175.40,334.85 L1176.77,335.46 L1178.15,336.06 L1179.53,336.66 L1180.90,337.26 L1182.28,337.86 L1183.66,338.46 L1185.03,339.06 L1186.41,339.65 L1187.79,340.25 L1189.17,340.84 L1190.55,341.43 L1191.93,342.02 L1193.31,342.60 L1194.70,343.19 L1196.08,343.77 L1197.46,344.35 L1198.85,344.93 L1200.23,345.51 L1201.62,346.08 L1203.01,346.66 L1204.39,347.23 L1205.78,347.80 L1207.17,348.36 L1208.56,348.93 L1209.95,349.49 L1211.35,350.05 L1212.74,350.60 L1214.13,351.16 L1215.53,351.71 L1216.92,352.26 L1218.32,352.81 L1219.72,353.35 L1221.12,353.89 L1222.52,354.43 L1223.92,354.96 L1225.32,355.50 L1226.73,356.03 L1228.13,356.55 L1229.54,357.08 L1230.94,357.60 L1232.35,358.12 L1233.76,358.63 L1235.17,359.14 L1236.59,359.65 L1238.00,360.16 L1239.41,360.66 L1240.83,361.15 L1242.25,361.65 L1243.67,362.14 L1245.09,362.63 L1246.51,363.11 L1247.93,363.59 L1249.36,364.07 L1250.79,364.54 L1252.21,365.01 L1253.64,365.48 L1255.07,365.94 L1256.51,366.40 L1257.94,366.85 L1259.37,367.30 L1260.81,367.75 L1262.25,368.20 L1263.69,368.64 L1265.13,369.07 L1266.57,369.51 L1268.01,369.94 L1269.46,370.36 L1270.90,370.78 L1272.35,371.20 L1273.80,371.62 L1275.25,372.03 L1276.70,372.44 L1278.15,372.85 L1279.60,373.25 L1281.05,373.65 L1282.51,374.04 L1283.97,374.43 L1285.42,374.82 L1286.88,375.21 L1288.34,375.59 L1289.80,375.97 L1291.26,376.34 L1292.72,376.71 L1294.19,377.08 L1295.65,377.45 L1297.12,377.81 L1298.58,378.17 L1300.05,378.52 L1301.52,378.88 L1302.98,379.23 L1304.45,379.57 L1305.92,379.92 L1307.40,380.26 L1308.87,380.59 L1310.34,380.93 L1311.81,381.26 L1313.29,381.59 L1314.76,381.91 L1316.24,382.23 L1317.71,382.55 L1319.19,382.87 L1320.67,383.18 L1322.15,383.49 L1323.63,383.79 L1325.11,384.10 L1326.59,384.40 L1328.07,384.70 L1329.55,384.99 L1331.03,385.28 L1332.51,385.57 L1333.99,385.86 L1335.48,386.14 L1336.96,386.42 L1338.45,386.70 L1339.93,386.97 L1341.42,387.25 L1342.90,387.52 L1344.39,387.78 L1345.87,388.05 L1347.36,388.31 L1348.85,388.57 L1350.33,388.82 L1351.82,389.08 L1353.31,389.33 L1354.80,389.57 L1356.28,389.82 L1357.77,390.06 L1359.26,390.30 L1360.75,390.54 L1362.24,390.77 L1363.73,391.01 L1365.22,391.24 L1366.71,391.46 L1368.20,391.69 L1369.68,391.91 L1371.17,392.13 L1372.66,392.35 L1374.15,392.56 L1375.64,392.78 L1377.13,392.99 L1378.62,393.19 L1380.11,393.40 L1381.60,393.60 L1383.09,393.80 L1384.58,394.00 L1386.07,394.20 L1387.56,394.39 L1389.05,394.58 L1390.54,394.77 L1392.02,394.96 L1393.51,395.14 L1395.00,395.32 L1396.49,395.50 L1397.98,395.68 L1399.46,395.86 L1400.95,396.03 L1402.44,396.20 L1403.92,396.37 L1405.41,396.54 L1406.90,396.70 L1408.38,396.87 L1409.87,397.03 L1411.35,397.19 L1412.84,397.34 L1414.32,397.50 L1415.80,397.65 L1417.29,397.80 L1418.77,397.95 L1420.25,398.09 L1421.73,398.24 L1423.21,398.38 L1424.69,398.52 L1426.17,398.66 L1427.65,398.80 L1429.13,398.93" fill="none" stroke="#0000ff" stroke-width="4.6" stroke-linecap="butt" stroke-linejoin="round"/>
<path d="M879.50,432.40 L892.60,432.40 L892.60,412.90 L892.20,300.00 L892.20,150.00 L893.00,115.00 L894.90,109.90 L896.50,115.00 L897.50,135.00 L898.30,162.40 L898.30,162.45 L898.59,163.56 L898.82,164.75 L899.01,166.01 L899.14,167.33 L899.23,168.71 L899.29,170.15 L899.32,171.64 L899.33,173.18 L899.32,174.75 L899.30,176.35 L899.27,177.99 L899.24,179.65 L899.22,181.33 L899.22,183.02 L899.23,184.72 L899.26,186.42 L899.33,188.11 L899.43,189.80 L899.57,191.48 L899.76,193.14 L900.01,194.77 L900.31,196.38 L900.68,197.95 L901.13,199.48 L901.65,200.96 L902.24,202.38 L902.93,203.72 L903.70,204.95 L904.55,206.07 L905.50,207.05 L906.54,207.89 L907.66,208.58 L908.85,209.14 L910.10,209.56 L911.40,209.86 L912.73,210.03 L914.10,210.08 L915.48,210.02 L916.86,209.85 L918.25,209.57 L919.62,209.19 L920.96,208.72 L922.27,208.16 L923.54,207.51 L924.76,206.77 L925.95,205.97 L927.10,205.09 L928.22,204.15 L929.31,203.15 L930.38,202.10 L931.42,201.01 L932.45,199.87 L933.46,198.70 L934.46,197.49 L935.45,196.27 L936.43,195.02 L937.41,193.77 L938.39,192.51 L939.38,191.24 L940.37,189.98 L941.38,188.73 L942.39,187.50 L943.43,186.29 L944.48,185.11 L945.56,183.96 L946.66,182.85 L947.79,181.78 L948.96,180.76 L950.15,179.78 L951.37,178.86 L952.61,177.97 L953.88,177.14 L955.17,176.35 L956.48,175.61 L957.81,174.92 L959.16,174.27 L960.53,173.68 L961.91,173.13 L963.31,172.62 L964.72,172.17 L966.14,171.76 L967.57,171.40 L969.01,171.09 L970.46,170.83 L971.91,170.62 L973.37,170.46 L974.83,170.34 L976.29,170.28 L977.76,170.26 L979.22,170.29 L980.68,170.36 L982.15,170.48 L983.61,170.64 L985.08,170.83 L986.54,171.06 L988.01,171.32 L989.47,171.61 L990.94,171.93 L992.40,172.28 L993.87,172.64 L995.33,173.03 L996.79,173.44 L998.26,173.87 L999.72,174.31 L1001.18,174.76 L1002.64,175.22 L1004.11,175.69 L1005.57,176.16 L1007.03,176.64 L1008.48,177.12 L1009.94,177.59 L1011.40,178.06 L1012.86,178.53 L1014.31,179.00 L1015.76,179.46 L1017.22,179.93 L1018.67,180.39 L1020.11,180.85 L1021.56,181.31 L1023.01,181.78 L1024.45,182.24 L1025.89,182.71 L1027.33,183.18 L1028.76,183.65 L1030.19,184.13 L1031.62,184.61 L1033.05,185.10 L1034.47,185.59 L1035.89,186.09 L1037.31,186.59 L1038.72,187.10 L1040.13,187.62 L1041.53,188.15 L1042.93,188.69 L1044.33,189.23 L1045.72,189.79 L1047.11,190.36 L1048.49,190.93 L1049.87,191.52 L1051.25,192.12 L1052.61,192.73 L1053.98,193.36 L1055.34,193.99 L1056.69,194.63 L1058.04,195.29 L1059.39,195.95 L1060.73,196.63 L1062.06,197.31 L1063.39,198.01 L1064.71,198.72 L1066.03,199.43 L1067.34,200.16 L1068.65,200.90 L1069.95,201.65 L1071.25,202.41 L1072.54,203.18 L1073.82,203.95 L1075.10,204.74 L1076.37,205.54 L1077.64,206.35 L1078.90,207.16 L1080.16,207.99 L1081.41,208.83 L1082.65,209.67 L1083.88,210.53 L1085.11,211.39 L1086.34,212.27 L1087.55,213.15 L1088.77,214.04 L1089.97,214.95 L1091.17,215.86 L1092.36,216.78 L1093.54,217.70 L1094.72,218.64 L1095.89,219.59 L1097.05,220.54 L1098.21,221.51 L1099.36,222.48 L1100.50,223.46 L1101.63,224.45 L1102.76,225.44 L1103.88,226.45 L1104.99,227.46 L1106.10,228.48 L1107.20,229.51 L1108.29,230.55 L1109.37,231.60 L1110.44,232.65 L1111.51,233.71 L1112.57,234.78 L1113.62,235.86 L1114.67,236.94 L1115.70,238.03 L1116.73,239.13 L1117.75,240.24 L1118.76,241.35 L1119.76,242.47 L1120.76,243.60 L1121.74,244.74 L1122.72,245.88 L1123.69,247.03 L1124.65,248.18 L1125.60,249.35 L1126.55,250.52 L1127.48,251.69 L1128.41,252.88 L1129.33,254.06 L1130.24,255.26 L1131.15,256.46 L1132.05,257.66 L1132.94,258.87 L1133.82,260.09 L1134.70,261.31 L1135.58,262.54 L1136.45,263.77 L1137.31,265.00 L1138.17,266.24 L1139.02,267.48 L1139.87,268.72 L1140.71,269.97 L1141.56,271.22 L1142.39,272.48 L1143.23,273.73 L1144.06,274.99 L1144.88,276.26 L1145.71,277.52 L1146.53,278.79 L1147.35,280.06 L1148.17,281.32 L1148.98,282.60 L1149.80,283.87 L1150.61,285.14 L1151.42,286.41 L1152.24,287.69 L1153.05,288.96 L1153.86,290.24 L1154.67,291.51 L1155.48,292.78 L1156.30,294.06 L1157.11,295.33 L1157.92,296.60 L1158.74,297.87 L1159.56,299.14 L1160.38,300.41 L1161.20,301.68 L1162.02,302.94 L1162.85,304.20 L1163.68,305.46 L1164.52,306.72 L1165.35,307.97 L1166.19,309.22 L1167.04,310.47 L1167.89,311.72 L1168.74,312.96 L1169.60,314.19 L1170.46,315.43 L1171.33,316.65 L1172.21,317.88 L1173.09,319.10 L1173.97,320.31 L1174.87,321.52 L1175.77,322.73 L1176.67,323.93 L1177.59,325.12 L1178.51,326.31 L1179.43,327.49 L1180.37,328.67 L1181.31,329.84 L1182.26,331.00 L1183.22,332.16 L1184.18,333.31 L1185.15,334.46 L1186.12,335.61 L1187.10,336.75 L1188.09,337.88 L1189.08,339.01 L1190.08,340.14 L1191.08,341.26 L1192.08,342.38 L1193.10,343.50 L1194.11,344.61 L1195.13,345.72 L1196.15,346.82 L1197.18,347.93 L1198.21,349.03 L1199.24,350.12 L1200.28,351.22 L1201.32,352.31 L1202.36,353.40 L1203.40,354.49 L1204.45,355.57 L1205.50,356.66 L1206.55,357.74 L1207.60,358.82 L1208.65,359.90 L1209.71,360.98 L1210.76,362.06 L1211.82,363.13 L1212.88,364.21 L1213.94,365.28 L1215.00,366.35 L1216.06,367.42 L1217.13,368.48 L1218.20,369.54 L1219.28,370.60 L1220.35,371.65 L1221.43,372.69 L1222.52,373.74 L1223.61,374.77 L1224.71,375.80 L1225.81,376.82 L1226.92,377.84 L1228.03,378.84 L1229.15,379.84 L1230.28,380.83 L1231.41,381.82 L1232.55,382.79 L1233.70,383.76 L1234.86,384.71 L1236.02,385.65 L1237.20,386.59 L1238.38,387.51 L1239.57,388.42 L1240.77,389.32 L1241.98,390.20 L1243.20,391.08 L1244.43,391.94 L1245.67,392.79 L1246.92,393.63 L1248.17,394.46 L1249.44,395.27 L1250.71,396.08 L1251.99,396.87 L1253.28,397.65 L1254.58,398.41 L1255.88,399.17 L1257.19,399.91 L1258.51,400.65 L1259.84,401.37 L1261.17,402.07 L1262.51,402.77 L1263.85,403.46 L1265.21,404.13 L1266.57,404.79 L1267.93,405.44 L1269.30,406.08 L1270.68,406.71 L1272.06,407.33 L1273.44,407.93 L1274.84,408.52 L1276.23,409.11 L1277.63,409.68 L1279.04,410.24 L1280.45,410.78 L1281.87,411.32 L1283.29,411.84 L1284.71,412.36 L1286.14,412.86 L1287.57,413.35 L1289.00,413.83 L1290.44,414.30 L1291.88,414.75 L1293.32,415.20 L1294.77,415.63 L1296.21,416.06 L1297.66,416.47 L1299.12,416.87 L1300.57,417.26 L1302.03,417.64 L1303.49,418.01 L1304.95,418.37 L1306.41,418.71 L1307.87,419.05 L1309.34,419.38 L1310.81,419.70 L1312.28,420.00 L1313.75,420.30 L1315.22,420.59 L1316.69,420.87 L1318.17,421.14 L1319.65,421.40 L1321.12,421.65 L1322.61,421.89 L1324.09,422.13 L1325.57,422.35 L1327.05,422.57 L1328.54,422.78 L1330.03,422.99 L1331.51,423.18 L1333.00,423.37 L1334.49,423.55 L1335.99,423.72 L1337.48,423.89 L1338.97,424.05 L1340.47,424.20 L1341.96,424.35 L1343.46,424.49 L1344.96,424.62 L1346.46,424.75 L1347.95,424.88 L1349.45,424.99 L1350.96,425.11 L1352.46,425.21 L1353.96,425.31 L1355.46,425.41 L1356.97,425.50 L1358.47,425.59 L1359.98,425.67 L1361.48,425.75 L1362.99,425.83 L1364.50,425.90 L1366.00,425.97 L1367.51,426.03 L1369.02,426.09 L1370.53,426.15 L1372.04,426.20 L1373.55,426.25 L1375.06,426.30 L1376.57,426.35 L1378.07,426.39 L1379.58,426.43 L1381.09,426.47 L1382.61,426.51 L1384.12,426.55 L1385.63,426.58 L1387.14,426.62 L1388.65,426.65 L1390.16,426.68 L1391.67,426.71 L1393.18,426.74 L1394.69,426.77 L1396.19,426.80 L1397.70,426.83 L1399.21,426.86 L1400.72,426.89 L1402.23,426.92 L1403.74,426.95 L1405.25,426.98 L1406.75,427.01 L1408.26,427.04 L1409.76,427.07 L1411.27,427.11 L1412.77,427.15 L1414.28,427.18 L1415.78,427.23 L1417.29,427.27 L1418.79,427.31 L1420.29,427.36 L1421.79,427.41 L1423.29,427.46 L1424.79,427.52 L1426.29,427.58 L1427.78,427.64 L1429.28,427.70" fill="none" stroke="#ff0000" stroke-width="4.6" stroke-linecap="butt" stroke-linejoin="round"/>
<path d="M879.50,412.90 L893.20,412.90 L893.40,300.00 L893.70,150.00 L894.50,132.00 L896.40,128.90 L898.60,135.50 L900.10,146.00 L901.60,156.00 L903.30,164.00 L905.00,168.60 L904.91,169.43 L906.38,169.17 L907.85,168.93 L909.33,168.70 L910.82,168.49 L912.31,168.29 L913.81,168.12 L915.31,167.96 L916.81,167.82 L918.32,167.69 L919.82,167.58 L921.34,167.49 L922.85,167.42 L924.36,167.36 L925.88,167.32 L927.40,167.29 L928.91,167.29 L930.43,167.30 L931.95,167.32 L933.47,167.37 L934.98,167.43 L936.50,167.50 L938.01,167.60 L939.53,167.71 L941.04,167.83 L942.54,167.98 L944.05,168.14 L945.55,168.31 L947.05,168.51 L948.54,168.72 L950.03,168.94 L951.51,169.19 L952.99,169.45 L954.46,169.72 L955.93,170.02 L957.39,170.33 L958.85,170.65 L960.30,170.99 L961.75,171.35 L963.19,171.72 L964.62,172.10 L966.05,172.50 L967.48,172.91 L968.90,173.34 L970.32,173.77 L971.73,174.22 L973.15,174.68 L974.55,175.14 L975.96,175.62 L977.36,176.11 L978.76,176.61 L980.16,177.11 L981.55,177.63 L982.95,178.15 L984.34,178.67 L985.73,179.21 L987.12,179.75 L988.51,180.30 L989.90,180.85 L991.28,181.40 L992.67,181.96 L994.06,182.53 L995.45,183.09 L996.83,183.66 L998.22,184.23 L999.61,184.81 L1001.00,185.38 L1002.40,185.96 L1003.79,186.53 L1005.19,187.11 L1006.58,187.68 L1007.98,188.25 L1009.39,188.82 L1010.79,189.39 L1012.20,189.96 L1013.61,190.52 L1015.03,191.08 L1016.44,191.64 L1017.86,192.20 L1019.28,192.76 L1020.70,193.32 L1022.12,193.88 L1023.54,194.43 L1024.97,194.99 L1026.39,195.54 L1027.82,196.10 L1029.24,196.66 L1030.67,197.21 L1032.10,197.77 L1033.52,198.33 L1034.95,198.89 L1036.38,199.45 L1037.80,200.01 L1039.23,200.57 L1040.65,201.14 L1042.07,201.71 L1043.50,202.28 L1044.92,202.85 L1046.33,203.42 L1047.75,204.00 L1049.17,204.58 L1050.58,205.17 L1051.99,205.75 L1053.40,206.34 L1054.80,206.94 L1056.20,207.54 L1057.60,208.14 L1059.00,208.75 L1060.39,209.36 L1061.78,209.98 L1063.17,210.60 L1064.55,211.23 L1065.93,211.86 L1067.30,212.50 L1068.67,213.15 L1070.03,213.80 L1071.39,214.46 L1072.74,215.12 L1074.09,215.79 L1075.44,216.47 L1076.78,217.15 L1078.11,217.85 L1079.43,218.55 L1080.75,219.25 L1082.07,219.97 L1083.38,220.69 L1084.68,221.42 L1085.97,222.16 L1087.26,222.91 L1088.54,223.67 L1089.81,224.43 L1091.08,225.21 L1092.34,226.00 L1093.59,226.79 L1094.83,227.60 L1096.06,228.41 L1097.29,229.24 L1098.51,230.07 L1099.71,230.92 L1100.91,231.78 L1102.10,232.65 L1103.28,233.53 L1104.46,234.42 L1105.62,235.32 L1106.77,236.24 L1107.91,237.16 L1109.04,238.10 L1110.17,239.06 L1111.28,240.02 L1112.38,241.00 L1113.47,241.99 L1114.55,242.99 L1115.61,244.01 L1116.67,245.04 L1117.71,246.09 L1118.75,247.15 L1119.77,248.22 L1120.78,249.31 L1121.77,250.41 L1122.76,251.53 L1123.73,252.67 L1124.69,253.81 L1125.63,254.98 L1126.57,256.16 L1127.49,257.35 L1128.40,258.56 L1129.30,259.78 L1130.18,261.01 L1131.06,262.25 L1131.93,263.51 L1132.78,264.77 L1133.63,266.05 L1134.47,267.33 L1135.30,268.62 L1136.12,269.93 L1136.94,271.23 L1137.75,272.55 L1138.55,273.87 L1139.34,275.19 L1140.13,276.52 L1140.91,277.86 L1141.69,279.20 L1142.46,280.54 L1143.23,281.88 L1144.00,283.23 L1144.76,284.57 L1145.52,285.92 L1146.27,287.26 L1147.03,288.61 L1147.78,289.95 L1148.53,291.29 L1149.28,292.63 L1150.03,293.96 L1150.78,295.29 L1151.52,296.62 L1152.27,297.94 L1153.02,299.25 L1153.77,300.56 L1154.52,301.87 L1155.28,303.17 L1156.03,304.47 L1156.78,305.76 L1157.53,307.05 L1158.29,308.34 L1159.04,309.63 L1159.80,310.91 L1160.56,312.19 L1161.31,313.47 L1162.07,314.74 L1162.83,316.02 L1163.59,317.29 L1164.35,318.56 L1165.12,319.84 L1165.88,321.11 L1166.64,322.38 L1167.41,323.65 L1168.17,324.92 L1168.94,326.19 L1169.71,327.47 L1170.48,328.74 L1171.25,330.02 L1172.02,331.29 L1172.79,332.57 L1173.57,333.85 L1174.34,335.14 L1175.12,336.42 L1175.90,337.71 L1176.68,339.00 L1177.46,340.29 L1178.25,341.57 L1179.04,342.86 L1179.83,344.15 L1180.62,345.44 L1181.42,346.73 L1182.22,348.02 L1183.02,349.31 L1183.83,350.60 L1184.64,351.88 L1185.46,353.17 L1186.28,354.45 L1187.11,355.73 L1187.94,357.01 L1188.78,358.28 L1189.62,359.56 L1190.47,360.83 L1191.32,362.09 L1192.18,363.35 L1193.04,364.61 L1193.92,365.87 L1194.79,367.12 L1195.68,368.36 L1196.57,369.60 L1197.47,370.84 L1198.38,372.07 L1199.30,373.29 L1200.22,374.51 L1201.15,375.72 L1202.09,376.92 L1203.04,378.12 L1204.00,379.30 L1204.97,380.47 L1205.95,381.64 L1206.94,382.79 L1207.94,383.92 L1208.96,385.05 L1209.98,386.15 L1211.02,387.24 L1212.08,388.31 L1213.14,389.37 L1214.22,390.40 L1215.32,391.42 L1216.43,392.41 L1217.55,393.39 L1218.69,394.34 L1219.85,395.26 L1221.03,396.16 L1222.22,397.04 L1223.43,397.89 L1224.65,398.71 L1225.89,399.51 L1227.14,400.29 L1228.41,401.05 L1229.69,401.78 L1230.99,402.48 L1232.29,403.17 L1233.62,403.83 L1234.95,404.47 L1236.30,405.09 L1237.66,405.68 L1239.03,406.26 L1240.41,406.81 L1241.80,407.34 L1243.20,407.85 L1244.61,408.34 L1246.03,408.81 L1247.46,409.26 L1248.90,409.68 L1250.35,410.09 L1251.80,410.48 L1253.27,410.85 L1254.73,411.20 L1256.21,411.53 L1257.69,411.85 L1259.18,412.14 L1260.67,412.42 L1262.17,412.68 L1263.67,412.92 L1265.18,413.15 L1266.69,413.35 L1268.20,413.55 L1269.72,413.72 L1271.24,413.88 L1272.76,414.02 L1274.28,414.15 L1275.81,414.26 L1277.33,414.35 L1278.86,414.43 L1280.39,414.50 L1281.91,414.55 L1283.44,414.59 L1284.96,414.61 L1286.49,414.62 L1288.01,414.61 L1289.53,414.60 L1291.04,414.57 L1292.56,414.52 L1294.07,414.47 L1295.57,414.40 L1297.08,414.32 L1298.57,414.22 L1300.07,414.12 L1300.00,414.60 L1414.80,414.60 L1415.70,413.70 L1429.30,413.70" fill="none" stroke="#000" stroke-width="4.6" stroke-linecap="butt" stroke-linejoin="round"/>
<line x1="159.00" y1="630.00" x2="159.00" y2="1088.70" stroke="#000" stroke-width="2.2" stroke-linecap="butt"/>
<line x1="146.00" y1="631.00" x2="159.00" y2="631.00" stroke="#000" stroke-width="2.2" stroke-linecap="butt"/>
<line x1="146.00" y1="859.85" x2="159.00" y2="859.85" stroke="#000" stroke-width="2.2" stroke-linecap="butt"/>
<line x1="152.50" y1="974.28" x2="159.00" y2="974.28" stroke="#000" stroke-width="2.2" stroke-linecap="butt"/>
<line x1="152.50" y1="745.42" x2="159.00" y2="745.42" stroke="#000" stroke-width="2.2" stroke-linecap="butt"/>
<rect x="185.60" y="687.60" width="31.47" height="401.10" fill="#c6c6c6" stroke="#000" stroke-width="1.4"/>
<rect x="217.07" y="934.40" width="31.47" height="154.30" fill="#0000ff" stroke="#000" stroke-width="1.4"/>
<rect x="248.54" y="924.80" width="31.47" height="163.90" fill="#ff00ff" stroke="#000" stroke-width="1.4"/>
<rect x="280.01" y="687.20" width="31.47" height="401.50" fill="#00ffff" stroke="#000" stroke-width="1.4"/>
<rect x="311.48" y="683.30" width="31.47" height="405.40" fill="#00ff00" stroke="#000" stroke-width="1.4"/>
<rect x="342.95" y="916.80" width="31.47" height="171.90" fill="#ff0000" stroke="#000" stroke-width="1.4"/>
<rect x="374.42" y="923.50" width="31.47" height="165.20" fill="#000000" stroke="#000" stroke-width="1.4"/>
<rect x="460.50" y="1061.90" width="31.47" height="26.80" fill="#c6c6c6" stroke="#000" stroke-width="1.4"/>
<rect x="491.97" y="1019.30" width="31.47" height="69.40" fill="#0000ff" stroke="#000" stroke-width="1.4"/>
<rect x="523.44" y="1042.80" width="31.47" height="45.90" fill="#ff00ff" stroke="#000" stroke-width="1.4"/>
<rect x="554.91" y="1065.60" width="31.47" height="23.10" fill="#00ffff" stroke="#000" stroke-width="1.4"/>
<rect x="586.38" y="1065.60" width="31.47" height="23.10" fill="#00ff00" stroke="#000" stroke-width="1.4"/>
<rect x="617.85" y="1009.20" width="31.47" height="79.50" fill="#ff0000" stroke="#000" stroke-width="1.4"/>
<rect x="649.32" y="1041.90" width="31.47" height="46.80" fill="#000000" stroke="#000" stroke-width="1.4"/>
<line x1="146.00" y1="1088.70" x2="709.00" y2="1088.70" stroke="#000" stroke-width="3.4" stroke-linecap="butt"/>
<line x1="159.00" y1="1088.70" x2="159.00" y2="1101.30" stroke="#000" stroke-width="2.2" stroke-linecap="butt"/>
<line x1="296.00" y1="1088.70" x2="296.00" y2="1099.30" stroke="#000" stroke-width="2.2" stroke-linecap="butt"/>
<line x1="571.20" y1="1088.70" x2="571.20" y2="1099.30" stroke="#000" stroke-width="2.2" stroke-linecap="butt"/>
<line x1="708.80" y1="1087.20" x2="708.80" y2="1100.50" stroke="#000" stroke-width="2.2" stroke-linecap="butt"/>
<line x1="433.30" y1="1088.70" x2="433.30" y2="1094.00" stroke="#000" stroke-width="2.2" stroke-linecap="butt"/>
<line x1="183" y1="922.9" x2="412" y2="922.9" stroke="#ffbf00" stroke-width="2.6" stroke-dasharray="2.2,5.3" stroke-linecap="round"/>
<line x1="453.4" y1="1041" x2="682.7" y2="1041" stroke="#ffbf00" stroke-width="2.6" stroke-dasharray="2.2,5.3" stroke-linecap="round"/>
<text x="232.00" y="923.30" font-size="22" text-anchor="middle" font-weight="bold">*</text>
<text x="264.40" y="923.30" font-size="22" text-anchor="middle" font-weight="bold">*</text>
<text x="506.30" y="1018.50" font-size="22" text-anchor="middle" font-weight="bold">*</text>
<text x="538.60" y="1018.50" font-size="22" text-anchor="middle" font-weight="bold">*</text>
<text x="139.00" y="639.20" font-size="31.0" text-anchor="end">1.4</text>
<text x="139.00" y="867.95" font-size="31.0" text-anchor="end">0.7</text>
<text x="139.00" y="1096.30" font-size="31.0" text-anchor="end">0.0</text>
<text x="257.5" y="1151" font-size="34" font-style="italic">Ca<tspan font-size="22" dy="3.8" dx="-1">tran</tspan></text>
<text x="528" y="1151" font-size="34" font-style="italic">Ca<tspan font-size="22" dy="3.8" dx="-0.5">diast</tspan></text>
<text transform="translate(65.2,912.2) rotate(-90)" font-size="34">[<tspan font-style="italic">Ca</tspan><tspan font-size="22" dy="-16">2+</tspan><tspan dy="16">]</tspan><tspan font-size="22" dy="4">i</tspan><tspan dy="-4"> (µM)</tspan></text>
<text x="379.60" y="623.80" font-size="32.6" font-weight="bold">Models</text>
<rect x="381.4" y="637.50" width="71" height="33.4" fill="#c6c6c6" stroke="#000" stroke-width="1.4"/>
<text x="463.00" y="665.00" font-size="32.8">Lugo et al.</text>
<rect x="381.4" y="677.83" width="71" height="33.4" fill="#00ffff" stroke="#000" stroke-width="1.4"/>
<text x="463.00" y="705.20" font-size="32.8">Maleckar et al.</text>
<rect x="381.4" y="718.16" width="71" height="33.4" fill="#00ff00" stroke="#000" stroke-width="1.4"/>
<text x="463.00" y="745.40" font-size="32.8">Nygren et al.</text>
<rect x="381.4" y="758.49" width="71" height="33.4" fill="#ff00ff" stroke="#000" stroke-width="1.4"/>
<text x="463.00" y="785.60" font-size="32.8">Koivumaki et al.</text>
<rect x="381.4" y="798.82" width="71" height="33.4" fill="#ff0000" stroke="#000" stroke-width="1.4"/>
<text x="463.00" y="825.80" font-size="32.8">Courtemanche et al.</text>
<rect x="381.4" y="839.15" width="71" height="33.4" fill="#0000ff" stroke="#000" stroke-width="1.4"/>
<text x="463.00" y="866.00" font-size="32.8">Grandi et al.</text>
<rect x="381.4" y="879.48" width="71" height="33.4" fill="#000000" stroke="#000" stroke-width="1.4"/>
<text x="463.00" y="906.20" font-size="32.8">TPA model</text>
<line x1="879.50" y1="631.10" x2="879.50" y2="1090.10" stroke="#000" stroke-width="2.2" stroke-linecap="butt"/>
<line x1="873.30" y1="1090.10" x2="1429.00" y2="1090.10" stroke="#000" stroke-width="2.2" stroke-linecap="butt"/>
<line x1="867.30" y1="632.10" x2="879.50" y2="632.10" stroke="#000" stroke-width="2.2" stroke-linecap="butt"/>
<line x1="867.30" y1="828.40" x2="879.50" y2="828.40" stroke="#000" stroke-width="2.2" stroke-linecap="butt"/>
<line x1="867.30" y1="1024.70" x2="879.50" y2="1024.70" stroke="#000" stroke-width="2.2" stroke-linecap="butt"/>
<line x1="873.30" y1="697.53" x2="879.50" y2="697.53" stroke="#000" stroke-width="2.2" stroke-linecap="butt"/>
<line x1="873.30" y1="762.97" x2="879.50" y2="762.97" stroke="#000" stroke-width="2.2" stroke-linecap="butt"/>
<line x1="873.30" y1="893.83" x2="879.50" y2="893.83" stroke="#000" stroke-width="2.2" stroke-linecap="butt"/>
<line x1="873.30" y1="959.27" x2="879.50" y2="959.27" stroke="#000" stroke-width="2.2" stroke-linecap="butt"/>
<line x1="873.30" y1="1090.13" x2="879.50" y2="1090.13" stroke="#000" stroke-width="2.2" stroke-linecap="butt"/>
<line x1="885.90" y1="1090.10" x2="885.90" y2="1101.60" stroke="#000" stroke-width="2.2" stroke-linecap="butt"/>
<line x1="1019.02" y1="1090.10" x2="1019.02" y2="1101.60" stroke="#000" stroke-width="2.2" stroke-linecap="butt"/>
<line x1="1152.15" y1="1090.10" x2="1152.15" y2="1101.60" stroke="#000" stroke-width="2.2" stroke-linecap="butt"/>
<line x1="1285.28" y1="1090.10" x2="1285.28" y2="1101.60" stroke="#000" stroke-width="2.2" stroke-linecap="butt"/>
<line x1="1418.40" y1="1090.10" x2="1418.40" y2="1101.60" stroke="#000" stroke-width="2.2" stroke-linecap="butt"/>
<text x="860.10" y="640.20" font-size="31.0" text-anchor="end">450</text>
<text x="860.10" y="836.50" font-size="31.0" text-anchor="end">300</text>
<text x="860.10" y="1032.80" font-size="31.0" text-anchor="end">150</text>
<text x="885.90" y="1132.20" font-size="31.0" text-anchor="middle">200</text>
<text x="1019.02" y="1132.20" font-size="31.0" text-anchor="middle">400</text>
<text x="1152.15" y="1132.20" font-size="31.0" text-anchor="middle">600</text>
<text x="1285.28" y="1132.20" font-size="31.0" text-anchor="middle">800</text>
<text x="1418.40" y="1132.20" font-size="31.0" text-anchor="middle">1000</text>
<text x="1068.80" y="1197.00" font-size="34">Time (ms)</text>
<text transform="translate(788.2,924.5) rotate(-90)" font-size="34">APD<tspan font-size="22" dy="5">90 </tspan><tspan dy="-5">(ms)</tspan></text>
<text x="883.60" y="573.00" font-size="31.8" font-weight="bold">Models</text>
<text x="1244.60" y="573.00" font-size="31.2" font-weight="bold">Experiments</text>
<line x1="885.60" y1="600.80" x2="954.90" y2="600.80" stroke="#00ffff" stroke-width="4.6" stroke-linecap="round"/>
<text x="964.20" y="611.40" font-size="31.2">Maleckar et al.</text>
<line x1="885.60" y1="639.55" x2="954.90" y2="639.55" stroke="#00ff00" stroke-width="4.6" stroke-linecap="round"/>
<text x="964.20" y="650.00" font-size="31.2">Nygren et al.</text>
<line x1="885.60" y1="678.30" x2="954.90" y2="678.30" stroke="#ff00ff" stroke-width="4.6" stroke-linecap="round"/>
<text x="964.20" y="688.60" font-size="31.2">Koivumaki et al.</text>
<line x1="885.60" y1="717.05" x2="954.90" y2="717.05" stroke="#ff0000" stroke-width="4.6" stroke-linecap="round"/>
<text x="964.20" y="727.20" font-size="31.2">Courtemanche et al.</text>
<line x1="885.60" y1="755.80" x2="954.90" y2="755.80" stroke="#0000ff" stroke-width="4.6" stroke-linecap="round"/>
<text x="964.20" y="765.80" font-size="31.2">Grandi et al.</text>
<line x1="885.60" y1="794.55" x2="954.90" y2="794.55" stroke="#000" stroke-width="4.6" stroke-linecap="round"/>
<text x="964.20" y="804.40" font-size="31.2">TPA model</text>
<rect x="1270" y="593" width="17.6" height="17.6" fill="#000"/>
<circle cx="1279.1" cy="640.4" r="9.6" fill="#000"/>
<polygon points="1268.3,685.8 1290.8,685.8 1279.5,666" fill="#000"/>
<text x="1323.40" y="611.10" font-size="31.2">Franz et al.</text>
<text x="1323.40" y="649.80" font-size="31.2">Bosch et al.</text>
<text x="1323.40" y="689.00" font-size="31.2">Dobrev et al.</text>
<path d="M952.00,980.40 L971.10,981.30 L989.40,983.10 L1007.60,983.10 L1025.80,982.60 L1044.10,981.30 L1062.30,980.40 L1080.50,979.50 L1100.00,978.20 L1144.70,971.40 L1199.40,964.20 L1254.00,959.60 L1352.90,949.50 L1419.40,942.20" fill="none" stroke="#00ffff" stroke-width="4.5" stroke-linecap="round" stroke-linejoin="round"/>
<path d="M952.00,926.60 L962.00,931.20 L980.30,938.50 L998.50,943.00 L1020.40,945.80 L1044.10,948.50 L1062.30,949.80 L1080.50,949.80 L1100.00,948.50 L1144.70,944.10 L1199.40,935.90 L1254.00,927.70 L1352.90,917.60 L1419.40,909.40" fill="none" stroke="#00ff00" stroke-width="4.5" stroke-linecap="round" stroke-linejoin="round"/>
<path d="M960.20,947.60 L980.30,941.20 L998.50,936.70 L1020.40,932.10 L1038.60,923.90 L1058.60,916.60 L1080.50,914.80 L1100.00,911.50 L1135.60,906.70 L1181.10,898.50 L1226.70,892.20 L1272.30,886.70 L1352.90,880.60 L1419.40,874.80" fill="none" stroke="#ff00ff" stroke-width="4.5" stroke-linecap="round" stroke-linejoin="round"/>
<path d="M961.10,868.30 L989.40,860.10 L1007.60,852.80 L1020.40,847.30 L1044.10,839.10 L1062.30,833.70 L1080.50,828.70 L1100.00,825.50 L1117.30,822.00 L1152.00,814.70 L1184.80,811.60 L1217.60,811.00 L1254.00,808.30 L1286.90,805.60 L1352.90,804.50 L1419.40,803.70" fill="none" stroke="#ff0000" stroke-width="4.5" stroke-linecap="round" stroke-linejoin="round"/>
<path d="M1112.80,771.80 L1152.90,782.80 L1184.80,783.30 L1299.60,783.30 L1352.90,781.00 L1419.40,779.10" fill="none" stroke="#0000ff" stroke-width="4.5" stroke-linecap="round" stroke-linejoin="round"/>
<path d="M886.40,970.90 L898.20,962.20 L916.50,951.20 L934.70,941.20 L952.90,933.00 L971.10,927.50 L989.40,922.10 L1007.60,916.20 L1020.40,912.10 L1044.10,909.30 L1062.30,907.10 L1080.50,904.80 L1100.00,905.00 L1419.40,905.40" fill="none" stroke="#000" stroke-width="4.5" stroke-linecap="round" stroke-linejoin="round"/>
<rect x="909.80" y="985.30" width="17.6" height="17.6" fill="#000"/>
<rect x="942.80" y="939.30" width="17.6" height="17.6" fill="#000"/>
<rect x="1009.70" y="878.10" width="17.6" height="17.6" fill="#000"/>
<rect x="1075.70" y="837.60" width="17.6" height="17.6" fill="#000"/>
<rect x="1143.20" y="828.10" width="17.6" height="17.6" fill="#000"/>
<rect x="1208.80" y="796.40" width="17.6" height="17.6" fill="#000"/>
<rect x="1275.90" y="784.90" width="17.6" height="17.6" fill="#000"/>
<circle cx="918.8" cy="941.2" r="9.3" fill="#000"/>
<circle cx="1085" cy="933.9" r="9.3" fill="#000"/>
<circle cx="1418.1" cy="883.9" r="9.3" fill="#000"/>
<polygon points="907.90,1028.70 930.50,1028.70 919.20,1008.70" fill="#000"/>
<polygon points="963.10,1015.00 985.70,1015.00 974.40,995.00" fill="#000"/>
<polygon points="1007.60,1001.90 1030.20,1001.90 1018.90,981.90" fill="#000"/>
<polygon points="1074.30,989.80 1096.90,989.80 1085.60,969.80" fill="#000"/>
<polygon points="1140.70,980.10 1163.30,980.10 1152.00,960.10" fill="#000"/>
<polygon points="1274.00,968.60 1296.60,968.60 1285.30,948.60" fill="#000"/>
<polygon points="1407.20,959.50 1429.80,959.50 1418.50,939.50" fill="#000"/>
</svg>
</body></html>
